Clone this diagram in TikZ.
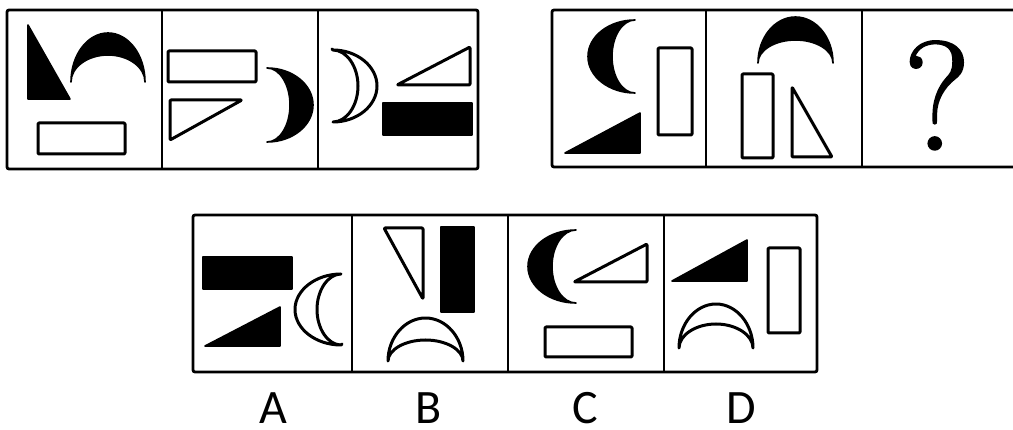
\documentclass[tikz,border=0pt]{standalone}
\usepackage{fontspec}
\newfontfamily\labelfont{Carlito}
\newfontfamily\qfont[FakeBold=1.2]{Latin Modern Roman}
\begin{document}
\begin{tikzpicture}[x=1pt,y=-1pt,
  frame/.style={line width=2.8pt,rounded corners=2pt},
  divider/.style={line width=2.8pt},
  hollow/.style={draw=black,line width=3pt,fill=white,rounded corners=1pt,line join=round},
  solid/.style={draw=black,fill=black,line width=1.6pt,line join=round},
  lbl/.style={font=\labelfont\fontsize{48}{48}\selectfont,anchor=base,inner sep=0pt}]
\useasboundingbox (0,0) rectangle (1013,430);
% crescent: #1 style, cx, cy, half span, outer bulge, inner bulge, rotation
\def\crescent#1#2#3#4#5#6#7{%
  \path[#1,shift={(#2,#3)},rotate=#7]
    (-#4,0) arc[start angle=180,end angle=360,x radius=#4,y radius=#5]
            arc[start angle=0,end angle=-180,x radius=#4,y radius=#6] -- cycle;}
% ---------- frames ----------
\draw[frame] (7,10) rectangle (478,169);
\draw[divider] (162,10) -- (162,169) (318,10) -- (318,169);
\begin{scope}
\clip (0,0) rectangle (1013,430);
\draw[frame] (552,10) rectangle (1030,167);
\end{scope}
\draw[divider] (706,10) -- (706,167) (862,10) -- (862,167);
\draw[frame] (193,215) rectangle (817,372);
\draw[divider] (352,215) -- (352,372) (508,215) -- (508,372) (664,215) -- (664,372);
% ---------- panel 1 ----------
\path[solid] (28,25) -- (28,99) -- (70,99) -- cycle;
\crescent{solid}{108}{82}{37}{49}{27}{0}
\path[hollow] (38,123) rectangle (125,154);
% ---------- panel 2 ----------
\path[hollow] (168,51) rectangle (256,82);
\path[hollow] (170,100) -- (242,100) -- (170,140) -- cycle;
\crescent{solid}{267}{105}{37}{46}{23}{-90}
% ---------- panel 3 ----------
\crescent{hollow}{332}{86}{36}{45}{26}{-90}
\path[hollow] (397,85) -- (470,85) -- (470,47) -- cycle;
\path[solid] (383,103) rectangle (472,135);
% ---------- panel 4 ----------
\crescent{solid}{635}{56.5}{36.5}{47}{23}{90}
\path[hollow] (658,48) rectangle (692,135);
\path[solid] (565,153) -- (640,153) -- (640,113) -- cycle;
% ---------- panel 5 ----------
\crescent{solid}{795.5}{63}{37.5}{46}{23}{0}
\path[hollow] (742,74) rectangle (773,158);
\path[hollow] (792,87) -- (792,157) -- (832,157) -- cycle;
% ---------- panel 6 ----------
\node[anchor=south,inner sep=0pt,font=\qfont\fontsize{155}{155}\selectfont] (qm) at (937,150) {?};
% ---------- option A ----------
\path[solid] (203,257) rectangle (292,289);
\path[solid] (205,346) -- (280,346) -- (280,307) -- cycle;
\crescent{hollow}{342}{309.5}{35.5}{47}{25}{90}
% ---------- option B ----------
\path[hollow] (384,228) -- (423,228) -- (423,299) -- cycle;
\path[solid] (441,227) rectangle (474,312);
\crescent{hollow}{425.5}{362}{37.5}{44}{22}{0}
% ---------- option C ----------
\crescent{solid}{576}{266.5}{36.5}{48}{24}{90}
\path[hollow] (574,282) -- (647,282) -- (647,244) -- cycle;
\path[hollow] (545,327) rectangle (632,357);
% ---------- option D ----------
\path[solid] (672,281) -- (747,281) -- (747,240) -- cycle;
\path[hollow] (768,248) rectangle (800,333);
\crescent{hollow}{716}{349}{37}{45}{25}{0}
% ---------- labels ----------
\node[lbl] (la) at (273,424) {A};
\node[lbl] (lb) at (429,424) {B};
\node[lbl] (lc) at (585,424) {C};
\node[lbl] (ld) at (741,424) {D};
\end{tikzpicture}
\end{document}
